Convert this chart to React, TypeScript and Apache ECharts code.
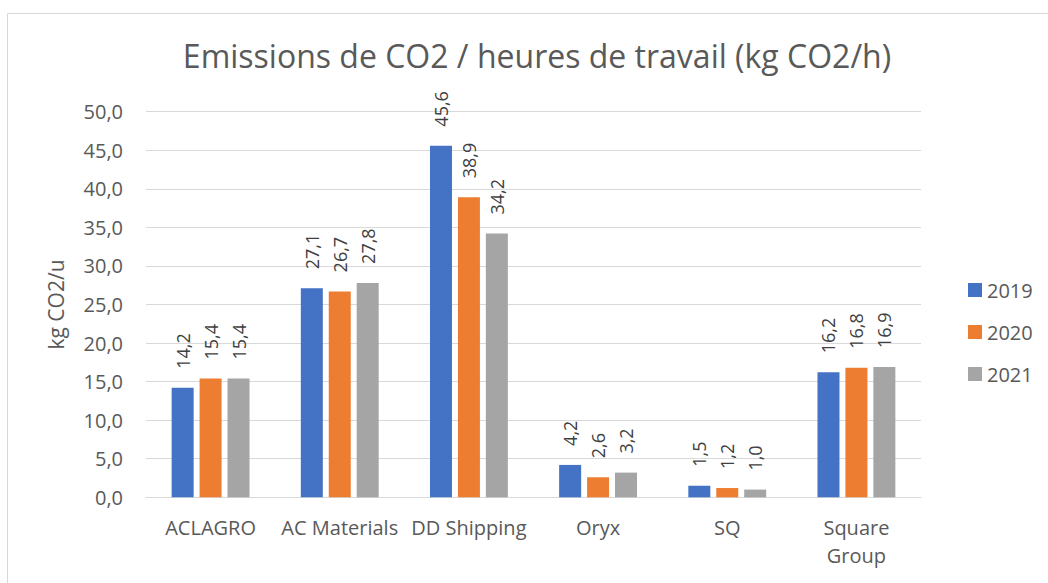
import React, { useEffect, useRef } from "react";
import * as echarts from "echarts";

const categories = ["ACLAGRO", "AC Materials", "DD Shipping", "Oryx", "SQ", "Square Group"];
const years = ["2019", "2020", "2021"];
const values2019 = [14.2, 27.1, 45.6, 4.2, 1.5, 16.2];
const values2020 = [15.4, 26.7, 38.9, 2.6, 1.2, 16.8];
const values2021 = [15.4, 27.8, 34.2, 3.2, 1.0, 16.9];
const colors = ["#4472C4", "#ED7D31", "#A5A5A5"];

const FONT = "'Open Sans', sans-serif";
const fmt = (v: number) => v.toFixed(1).replace(".", ",");

export default function App() {
  const ref = useRef<HTMLDivElement>(null);
  useEffect(() => {
    if (!ref.current) return;
    const chart = echarts.init(ref.current, undefined, { renderer: "svg" });
    const seriesData = [values2019, values2020, values2021];
    chart.setOption({
      animation: false,
      backgroundColor: "#ffffff",
      graphic: [
        {
          type: "rect",
          shape: { x: 7.5, y: 13.5, width: 1200, height: 700 },
          style: { fill: "none", stroke: "#d9d9d9", lineWidth: 1 },
          silent: true,
        },
      ],
      title: {
        text: "Emissions de CO2 / heures de travail (kg CO2/h)",
        left: 532,
        textAlign: "center",
        top: 34,
        textStyle: { fontFamily: FONT, fontSize: 32, fontWeight: "normal", color: "#595959" },
      },
      legend: {
        orient: "vertical",
        left: 963,
        top: 275,
        itemWidth: 14,
        itemHeight: 14,
        itemGap: 22,
        icon: "rect",
        data: years,
        textStyle: { fontFamily: FONT, fontSize: 20, color: "#595959" },
      },
      grid: { left: 146, right: 127, top: 111.7, bottom: 85.7, containLabel: false },
      xAxis: {
        type: "category",
        data: categories,
        axisLine: { lineStyle: { color: "#d9d9d9" } },
        axisTick: { show: false },
        axisLabel: {
          fontFamily: FONT,
          fontSize: 20,
          color: "#595959",
          margin: 16,
          lineHeight: 28,
          interval: 0,
          formatter: (v: string) => (v === "Square Group" ? "Square\nGroup" : v),
        },
      },
      yAxis: {
        type: "value",
        min: 0,
        max: 50,
        interval: 5,
        name: "kg CO2/u",
        nameLocation: "middle",
        nameGap: 80,
        nameTextStyle: { fontFamily: FONT, fontSize: 21, color: "#595959" },
        axisLine: { show: false },
        axisTick: { show: false },
        splitLine: { lineStyle: { color: "#d9d9d9" } },
        axisLabel: {
          fontFamily: FONT,
          fontSize: 20,
          color: "#595959",
          margin: 23,
          formatter: (v: number) => fmt(v),
        },
      },
      series: years.map((y, i) => ({
        name: y,
        type: "bar",
        data: seriesData[i],
        barWidth: 22,
        barGap: "27%",
        itemStyle: { color: colors[i] },
        label: {
          show: true,
          position: "top",
          rotate: 90,
          align: "left",
          verticalAlign: "middle",
          distance: 19,
          fontFamily: FONT,
          fontSize: 18,
          color: "#404040",
          formatter: (p: any) => fmt(p.value),
        },
      })),
    });
    return () => chart.dispose();
  }, []);
  return (
    <div
      ref={ref}
      style={{ position: "fixed", left: 0, top: 0, width: 1048, height: 583, background: "#fff" }}
    />
  );
}
